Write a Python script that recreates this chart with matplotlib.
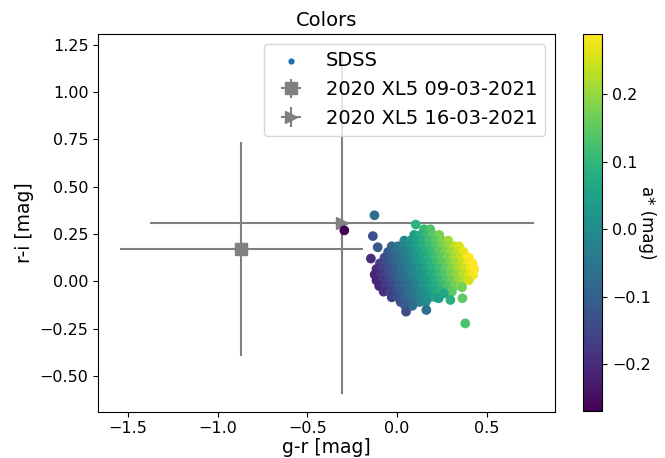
import numpy as np
import matplotlib
matplotlib.use("Agg")
import matplotlib.pyplot as plt

# SDSS asteroid colours (r-i constant per row)
sdss_ri_rows = [0.275, 0.245, 0.215, 0.185, 0.155, 0.125, 0.095, 0.065,
                0.035, 0.005, -0.025, -0.055, -0.085, -0.11, -0.13]
sdss_gr_rows = [
    [0.15, 0.185],
    [0.095, 0.13, 0.165, 0.2, 0.235],
    [0.04, 0.075, 0.11, 0.145, 0.18, 0.215, 0.25, 0.285],
    [-0.03, 0.005, 0.04, 0.075, 0.11, 0.145, 0.18, 0.215, 0.25, 0.285, 0.32, 0.345],
    [-0.05, -0.015, 0.02, 0.055, 0.09, 0.125, 0.16, 0.195, 0.23, 0.265, 0.3, 0.335, 0.37],
    [-0.07, -0.035, 0.0, 0.035, 0.07, 0.105, 0.14, 0.175, 0.21, 0.245, 0.28, 0.315, 0.35, 0.385, 0.40],
    [-0.095, -0.06, -0.025, 0.01, 0.045, 0.08, 0.115, 0.15, 0.185, 0.22, 0.255, 0.29, 0.325, 0.36, 0.395, 0.42],
    [-0.115, -0.08, -0.045, -0.01, 0.025, 0.06, 0.095, 0.13, 0.165, 0.2, 0.235, 0.27, 0.305, 0.34, 0.375, 0.41, 0.43],
    [-0.125, -0.09, -0.055, -0.02, 0.015, 0.05, 0.085, 0.12, 0.155, 0.19, 0.225, 0.26, 0.295, 0.33, 0.365, 0.40, 0.425],
    [-0.115, -0.08, -0.045, -0.01, 0.025, 0.06, 0.095, 0.13, 0.165, 0.2, 0.235, 0.27, 0.305, 0.34, 0.375, 0.40],
    [-0.1, -0.065, -0.03, 0.005, 0.04, 0.075, 0.11, 0.145, 0.18, 0.215, 0.25, 0.285, 0.32, 0.355],
    [-0.075, -0.04, -0.005, 0.03, 0.065, 0.1, 0.135, 0.17, 0.205, 0.24, 0.275, 0.305],
    [-0.03, 0.005, 0.04, 0.075, 0.11, 0.145, 0.18, 0.215],
    [0.02, 0.055, 0.09, 0.125, 0.16],
    [0.045, 0.085],
]
sdss_astar_rows = [
    [0.108, 0.139],
    [0.049, 0.081, 0.112, 0.144, 0.175],
    [-0.010, 0.022, 0.054, 0.085, 0.117, 0.148, 0.180, 0.211],
    [-0.082, -0.050, -0.019, 0.013, 0.045, 0.076, 0.108, 0.139, 0.171, 0.202, 0.234, 0.256],
    [-0.109, -0.077, -0.046, -0.014, 0.018, 0.049, 0.081, 0.112, 0.144, 0.175, 0.207, 0.238, 0.270],
    [-0.136, -0.104, -0.073, -0.041, -0.010, 0.022, 0.054, 0.085, 0.117, 0.148, 0.180, 0.211, 0.243, 0.274, 0.288],
    [-0.167, -0.136, -0.104, -0.073, -0.041, -0.010, 0.022, 0.054, 0.085, 0.117, 0.148, 0.180, 0.211, 0.243, 0.274, 0.289],
    [-0.194, -0.163, -0.131, -0.100, -0.068, -0.037, -0.005, 0.027, 0.058, 0.090, 0.121, 0.153, 0.184, 0.216, 0.247, 0.279, 0.289],
    [-0.212, -0.181, -0.149, -0.118, -0.086, -0.055, -0.023, 0.009, 0.040, 0.072, 0.103, 0.135, 0.166, 0.198, 0.229, 0.261, 0.283],
    [-0.212, -0.181, -0.149, -0.118, -0.086, -0.055, -0.023, 0.009, 0.040, 0.072, 0.103, 0.135, 0.166, 0.198, 0.229, 0.252],
    [-0.208, -0.176, -0.145, -0.113, -0.082, -0.050, -0.019, 0.013, 0.045, 0.076, 0.108, 0.139, 0.171, 0.202],
    [-0.194, -0.163, -0.131, -0.100, -0.068, -0.037, -0.005, 0.027, 0.058, 0.090, 0.121, 0.148],
    [-0.163, -0.131, -0.100, -0.068, -0.037, -0.005, 0.027, 0.058],
    [-0.125, -0.094, -0.062, -0.031, 0.001],
    [-0.109, -0.073],
]

# isolated SDSS points around the main cloud
outlier_gr = [-0.126, 0.104, -0.294, -0.135, -0.108, -0.146, 0.05, 0.163, 0.38, 0.364, 0.297, 0.232, 0.26, 0.362]
outlier_ri = [0.349, 0.30, 0.269, 0.239, 0.18, 0.12, -0.161, -0.152, -0.223, -0.09, -0.099, -0.09, -0.065, -0.032]
outlier_astar = [-0.07, 0.09, -0.269, -0.13, -0.12, -0.20, -0.14, -0.06, 0.13, 0.15, 0.08, 0.04, 0.06, 0.17]

# 2020 XL5 observations
obs_labels = ["2020 XL5 09-03-2021", "2020 XL5 16-03-2021"]
obs_gr = [-0.867, -0.307]
obs_ri = [0.170, 0.310]
obs_gr_err = [0.675, 1.072]
obs_ri_err = [0.564, 0.906]
obs_markers = ["s", ">"]

gr = []
ri = []
astar = []
for y, xs, cs in zip(sdss_ri_rows, sdss_gr_rows, sdss_astar_rows):
    gr += xs
    ri += [y] * len(xs)
    astar += cs
gr = np.array(gr + outlier_gr)
ri = np.array(ri + outlier_ri)
astar = np.array(astar + outlier_astar)

fig = plt.figure(figsize=(6.65, 4.58), dpi=100)
ax = fig.add_axes([0.1478, 0.1011, 0.6868, 0.8247])
cax = fig.add_axes([0.8762, 0.1033, 0.0295, 0.8225])

sc = ax.scatter(gr, ri, c=astar, cmap="viridis", zorder=3, label="SDSS")

for i in range(len(obs_labels)):
    ax.errorbar(obs_gr[i], obs_ri[i], xerr=obs_gr_err[i], yerr=obs_ri_err[i],
                fmt=obs_markers[i], color="gray", markersize=8.5,
                label=obs_labels[i])

ax.set_xlim(-1.665, 0.88)
ax.set_ylim(-0.69, 1.308)
ax.set_title("Colors", fontsize=14)
ax.set_xlabel("g-r [mag]", fontsize=13.5, labelpad=1)
ax.set_ylabel("r-i [mag]", fontsize=13.5)
ax.tick_params(labelsize=11.5)
leg = ax.legend(loc="upper right", fontsize=14)
# the SDSS handle shows as a small blue dot
leg.legend_handles[0].set_sizes([12])
leg.legend_handles[0].set_array(None)
leg.legend_handles[0].set_facecolor("#1f6fb0")
leg.legend_handles[0].set_edgecolor("#1f6fb0")

cbar = fig.colorbar(sc, cax=cax)
cbar.set_label("a* (mag)", rotation=270, fontsize=12)
cbar.ax.tick_params(labelsize=11.5)

fig.savefig("out.png", dpi=100)
